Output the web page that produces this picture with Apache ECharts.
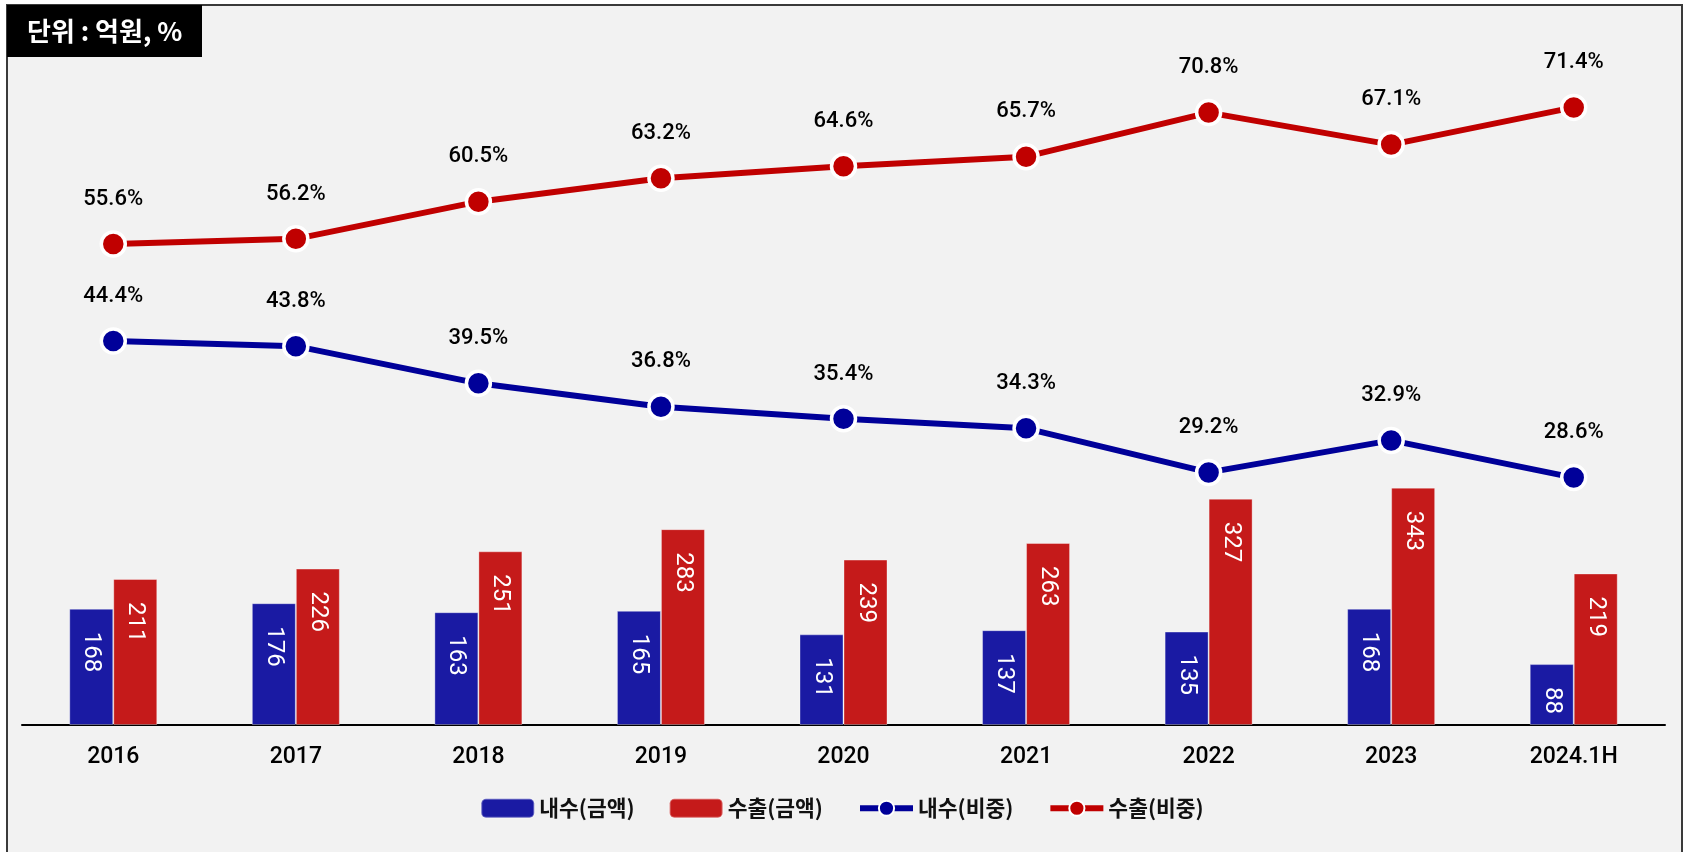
<!DOCTYPE html>
<html>
<head>
<meta charset="utf-8">
<script src="https://cdn.jsdelivr.net/npm/echarts@6/dist/echarts.min.js"></script>
<style>
html,body{margin:0;padding:0;background:#fff;}
#chart{width:1684px;height:852px;}
</style>
</head>
<body>
<div id="chart"></div>
<script>
const categories = ['2016','2017','2018','2019','2020','2021','2022','2023','2024.1H'];
const domesticAmount = [168,176,163,165,131,137,135,168,88];
const exportAmount = [211,226,251,283,239,263,327,343,219];
const domesticShare = [44.4,43.8,39.5,36.8,35.4,34.3,29.2,32.9,28.6];
const exportShare = [55.6,56.2,60.5,63.2,64.6,65.7,70.8,67.1,71.4];
const seriesNames = ['내수(금액)','수출(금액)','내수(비중)','수출(비중)'];
const unitText = '단위 : 억원, %';

const FONT = 'Roboto, "Noto Sans CJK KR", sans-serif';
const chart = echarts.init(document.getElementById('chart'));

const barLabel = {
  show: true,
  position: ['50%', 23],
  rotate: -90,
  align: 'left',
  verticalAlign: 'middle',
  color: '#fff',
  fontSize: 24,
  fontFamily: FONT
};
const lineLabel = {
  show: true,
  position: 'top',
  distance: 20,
  color: '#000',
  fontSize: 22,
  fontWeight: 500,
  fontFamily: FONT,
  formatter: p => p.value.toFixed(1) + '%'
};

chart.setOption({
  backgroundColor: '#ffffff',
  animation: false,
  graphic: [
    { type: 'rect', z: -10, shape: { x: 7, y: 5, width: 1675, height: 860 },
      style: { fill: '#f2f2f2', stroke: '#3a3a3a', lineWidth: 2 } },
    { type: 'rect', z: 10, shape: { x: 7, y: 5, width: 195, height: 52 },
      style: { fill: '#000' } },
    { type: 'text', z: 11, x: 27, y: 31,
      style: { text: unitText, fill: '#fff', font: 'bold 26px "Noto Sans CJK KR", sans-serif', verticalAlign: 'middle' } }
  ],
  grid: { left: 22, right: 19, top: 33, bottom: 127 },
  legend: {
    bottom: 28,
    left: 'center',
    itemWidth: 53,
    itemHeight: 19,
    itemGap: 34,
    lineStyle: { width: 6 },
    textStyle: { fontSize: 21.5, fontWeight: 'bold', color: '#111', fontFamily: '"Noto Sans CJK KR", sans-serif' },
    data: seriesNames
  },
  xAxis: {
    type: 'category',
    data: categories,
    axisLine: { lineStyle: { color: '#000', width: 2 } },
    axisTick: { show: false },
    axisLabel: { color: '#000', fontSize: 23, fontWeight: 500, fontFamily: FONT, margin: 21 }
  },
  yAxis: [
    { type: 'value', min: 0, max: 1000, show: false },
    { type: 'value', min: 0, max: 80, interval: 10, show: false }
  ],
  series: [
    { name: seriesNames[0], type: 'bar', data: domesticAmount, barWidth: 44, barGap: '0%',
      itemStyle: { color: '#1a1aa3', borderColor: 'rgba(255,255,255,0.35)', borderWidth: 1 }, label: barLabel },
    { name: seriesNames[1], type: 'bar', data: exportAmount, barWidth: 44, barGap: '0%',
      itemStyle: { color: '#c51a1a', borderColor: 'rgba(255,255,255,0.35)', borderWidth: 1 }, label: barLabel },
    { name: seriesNames[2], type: 'line', yAxisIndex: 1, data: domesticShare,
      symbol: 'circle', symbolSize: 24,
      lineStyle: { color: '#000099', width: 6 },
      itemStyle: { color: '#000099', borderColor: '#fff', borderWidth: 3.5 },
      label: lineLabel, z: 5 },
    { name: seriesNames[3], type: 'line', yAxisIndex: 1, data: exportShare,
      symbol: 'circle', symbolSize: 24,
      lineStyle: { color: '#c00000', width: 6 },
      itemStyle: { color: '#c00000', borderColor: '#fff', borderWidth: 3.5 },
      label: lineLabel, z: 5 }
  ]
});
</script>
</body>
</html>
